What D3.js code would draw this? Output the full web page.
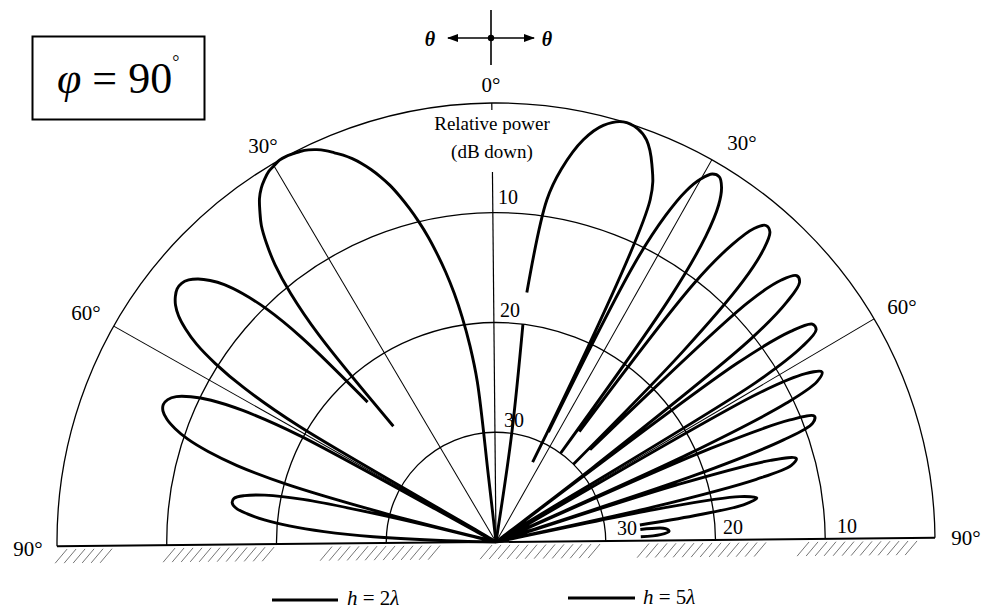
<!DOCTYPE html>
<html>
<head>
<meta charset="utf-8">
<script src="https://cdn.jsdelivr.net/npm/d3@7"></script>
<style>
  body { margin: 0; background: #fff; }
  svg { display: block; font-family: "Liberation Serif", "Times New Roman", serif; }
</style>
</head>
<body>
<svg id="visualisation" width="981" height="610"></svg>
<script>
// values: angle from zenith (deg) and dB down, null = pen lifted
var theta2 = [0,6,6.1,7,8,9,10,11,12,13,14,15,16,17,18,19,20,21,22,23,24,25,26,27,28,29,30,
  31,32,33,34,35,36,37,38,39,40,41,41.4,42,43,44,45,46,47,48,49,50,51,52,53,54,55,56,57,58,59,60,
  61,62,63,64,65,66,67,68,69,70,71,72,73,74,75,75.5,76,77,78,79,80,81,82,83,84,85,86,87,88,89,90];
var db2 = [40,34,25.3,22.0,19.3,17.0,15.0,13.2,11.5,10.0,8.6,7.3,6.1,5.1,4.2,3.4,2.7,2.1,1.6,1.1,0.7,0.4,0.2,0.1,0,0,0.2,
  0.4,0.8,1.3,2.0,3.0,4.1,5.7,7.7,10.6,15.2,25.9,null,22.7,14.3,10.2,7.7,5.9,4.7,3.8,3.2,2.9,2.9,3.2,3.7,4.5,5.7,7.3,9.7,13.1,19.2,40,
  19.6,14.0,11.0,9.2,8.0,7.4,7.2,7.4,8.0,9.0,10.4,12.5,15.4,20.1,29.7,40,31.1,22.0,18.5,16.7,15.8,15.7,16.1,17.2,18.8,21.1,24.3,28.8,35.5,40,40];

var theta5 = [0,8.8,7.6,7.6,7.6,9,10.5,12.8,15,17.4,19.5,21.1,23,24.8,25.2,25.8,26,27,28,29,30,
  31,32,33,34,35,36,36.6,36.9,37.6,38,39,40,41,42,43,44,45,45.4,45.6,46.1,47,48,49,50,51,52,53,53.1,54,55,56,57,58,59,60,
  61,62,63,64,65,66,66.4,67,68,69,70,71,72,72.5,73,74,75,76,77,78,78.5,79,80,81,82,83,83.8,84.5,85.6,86,87,88,88.5];
var db5 = [40,30,20,null,17.1,8.5,5.5,2.5,0.8,0,0.2,0.9,2.8,5.8,32,null,28.9,11.7,6.5,3.6,2.0,
  1.1,1.0,1.7,3.2,6.2,12.5,30,null,27.4,10.3,5.4,3.0,2.1,2.3,3.9,7.3,15.7,30,null,28,8.3,4.7,3.4,3.6,5.6,10.3,28.8,40,12.7,7.0,5.0,5.0,6.9,12.2,40,
  12.6,7.9,6.5,7.3,10.7,20.9,40,18.6,11.0,8.8,9.2,12.2,20.8,40,22.7,13.9,11.6,12.2,15.6,25.4,40,24.9,17.4,15.9,17.2,21.8,26.8,null,26.8,24.5,24.2,25,26.8];

var ringLevels = [0, 10, 20, 30];
var ringLabels = ["10", "20", "30"];
var spokeAngles = [-60, -30, 30, 60];
var angleLabels = ["90°", "60°", "30°", "0°", "30°", "60°", "90°"];
var legendLabels = [["h", " = 2", "λ"], ["h", " = 5", "λ"]];

// layout
var cx = 496, cy = 542, R = 439, tilt = -0.55;
var rad = Math.PI / 180;

var vis = d3.select('#visualisation');

var rScale = d3.scaleLinear().domain([0, 40]).range([R, 0]);

//whole polar frame, the scan is a little rotated
var g = vis.append('g')
  .attr('transform', 'translate(' + cx + ',' + cy + ') rotate(' + tilt + ')');

//ground hatch
var hatchGroups = [[55, 108], [163, 265], [320, 430], [480, 597], [637, 757], [797, 913]];
hatchGroups.forEach(function(seg) {
  var xs = d3.range(seg[0] - cx, seg[1] - cx, 9);
  g.selectAll(null).data(xs).enter().append('line')
    .attr('x1', function(d) { return d + 12; })
    .attr('y1', 3)
    .attr('x2', function(d) { return d; })
    .attr('y2', 17)
    .attr('stroke', '#333')
    .attr('stroke-width', 0.9)
    .attr('opacity', 0.75);
});

//rings
ringLevels.forEach(function(lv) {
  var p = d3.path();
  var r = rScale(lv);
  p.moveTo(-r, 0);
  p.arc(0, 0, r, Math.PI, 2 * Math.PI);
  g.append('path')
    .attr('d', p.toString())
    .attr('fill', 'none')
    .attr('stroke', '#000')
    .attr('stroke-width', 1.3);
});

//spokes
g.selectAll('.spoke').data(spokeAngles).enter().append('line')
  .attr('class', 'spoke')
  .attr('x1', 0).attr('y1', 0)
  .attr('x2', function(d) { return R * Math.sin(d * rad); })
  .attr('y2', function(d) { return -R * Math.cos(d * rad); })
  .attr('stroke', '#000')
  .attr('stroke-width', 1);

//vertical axis, stops under the title text
g.append('line')
  .attr('x1', 0).attr('y1', 0)
  .attr('x2', 0).attr('y2', -370)
  .attr('stroke', '#000').attr('stroke-width', 1.2);
g.append('line')
  .attr('x1', 0).attr('y1', -R)
  .attr('x2', 0).attr('y2', -R + 7)
  .attr('stroke', '#000').attr('stroke-width', 1.2);

//ground line
g.append('line')
  .attr('x1', -R).attr('y1', 0)
  .attr('x2', R).attr('y2', 0)
  .attr('stroke', '#000').attr('stroke-width', 2);

//patterns
var lineFunc = d3.lineRadial()
  .defined(function(d) { return d.db !== null; })
  .angle(function(d) { return d.a * rad; })
  .radius(function(d) { return rScale(d.db); })
  .curve(d3.curveCatmullRom.alpha(0.5));

var left = theta2.map(function(t, i) { return {a: -t, db: db2[i]}; });
var right = theta5.map(function(t, i) { return {a: t, db: db5[i]}; });

[left, right].forEach(function(series) {
  g.append('path')
    .attr('d', lineFunc(series))
    .attr('fill', 'none')
    .attr('stroke', '#000')
    .attr('stroke-width', 2.9)
    .attr('stroke-linejoin', 'round');
});

//ring labels on vertical
var vLab = [[5, 9], [7, 6], [11, 5]];
ringLabels.forEach(function(t, i) {
  var r = rScale(+t);
  vis.append('text')
    .attr('x', cx - 3 + vLab[i][0])
    .attr('y', cy - r - vLab[i][1])
    .style('font-size', '20px')
    .text(t);
});
//ring labels on the ground line, right side
var gLab = [[617, 535], [723, 534], [837, 533]];
ringLabels.slice().reverse().forEach(function(t, i) {
  vis.append('text')
    .attr('x', gLab[i][0]).attr('y', gLab[i][1])
    .style('font-size', '20px')
    .text(t);
});

//angle labels
var angPos = [[28, 556], [86, 320], [263, 153], [491, 92], [742, 150], [902, 314], [966, 545]];
angleLabels.forEach(function(t, i) {
  vis.append('text')
    .attr('x', angPos[i][0]).attr('y', angPos[i][1])
    .attr('text-anchor', 'middle')
    .style('font-size', '21px')
    .text(t);
});

//title in the plot
vis.append('text')
  .attr('x', 492).attr('y', 130)
  .attr('text-anchor', 'middle')
  .style('font-size', '19px')
  .text('Relative power');
vis.append('text')
  .attr('x', 492).attr('y', 158)
  .attr('text-anchor', 'middle')
  .style('font-size', '19px')
  .text('(dB down)');

//theta arrows at top
var defs = vis.append('defs');
defs.append('marker')
  .attr('id', 'arr')
  .attr('viewBox', '0 0 10 10')
  .attr('refX', 9).attr('refY', 5)
  .attr('markerWidth', 7).attr('markerHeight', 7)
  .attr('orient', 'auto-start-reverse')
  .append('path')
  .attr('d', 'M0,1.5 L10,5 L0,8.5 Z')
  .attr('fill', '#000');
vis.append('line')
  .attr('x1', 491).attr('y1', 10)
  .attr('x2', 491).attr('y2', 65)
  .attr('stroke', '#000').attr('stroke-width', 1.6);
vis.append('line')
  .attr('x1', 448).attr('y1', 38)
  .attr('x2', 534).attr('y2', 38)
  .attr('stroke', '#000').attr('stroke-width', 1.6)
  .attr('marker-start', 'url(#arr)')
  .attr('marker-end', 'url(#arr)');
vis.append('circle')
  .attr('cx', 491).attr('cy', 38).attr('r', 3.2)
  .attr('fill', '#000');
[[430, 'θ'], [547, 'θ']].forEach(function(d) {
  vis.append('text')
    .attr('x', d[0]).attr('y', 46)
    .attr('text-anchor', 'middle')
    .style('font-size', '20px')
    .style('font-style', 'italic')
    .style('font-weight', 'bold')
    .text(d[1]);
});

//phi box
vis.append('rect')
  .attr('x', 32.5).attr('y', 36.5)
  .attr('width', 172).attr('height', 83)
  .attr('fill', 'none')
  .attr('stroke', '#000').attr('stroke-width', 2);
var phi = vis.append('text')
  .attr('x', 57).attr('y', 93)
  .style('font-size', '44px');
phi.append('tspan').style('font-style', 'italic').text('φ');
phi.append('tspan').text(' = 90');
phi.append('tspan').attr('dy', -25).style('font-size', '18px').text('°');

//legend
var legPos = [[272, 338, 600, 347, 605], [568, 635, 598, 643, 604]];
legendLabels.forEach(function(lab, i) {
  var p = legPos[i];
  vis.append('line')
    .attr('x1', p[0]).attr('y1', p[2])
    .attr('x2', p[1]).attr('y2', p[2])
    .attr('stroke', '#000').attr('stroke-width', 3);
  var t = vis.append('text')
    .attr('x', p[3]).attr('y', p[4])
    .style('font-size', '21px');
  t.append('tspan').style('font-style', 'italic').text(lab[0]);
  t.append('tspan').text(lab[1]);
  t.append('tspan').style('font-style', 'italic').text(lab[2]);
});
</script>
</body>
</html>
